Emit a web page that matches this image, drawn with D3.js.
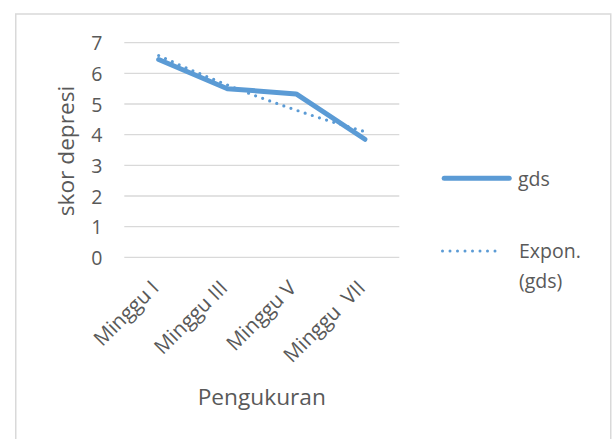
<!DOCTYPE html>
<html>
<head>
<meta charset="utf-8">
<script src="https://cdn.jsdelivr.net/npm/d3@7"></script>
<style>
  html, body { margin: 0; padding: 0; background: #ffffff; }
  svg { display: block; }
  text { font-family: "Open Sans", sans-serif; fill: #595959; }
</style>
</head>
<body>
<svg id="chart" width="616" height="439"></svg>
<script>
// Weekly depression scores (GDS) per measurement
const categories = ["Minggu I", "Minggu III", "Minggu V", "Minggu  VII"];
const gdsValues = [6.45, 5.5, 5.33, 3.85];
const yTicks = [0, 1, 2, 3, 4, 5, 6, 7];
const seriesName = "gds";
const trendName = ["Expon.", "(gds)"];
const xTitle = "Pengukuran";
const yTitle = "skor depresi";

const blue = "#5b9bd5";
const grid = "#d9d9d9";

const svg = d3.select("#chart");

// outer chart frame
svg.append("rect")
  .attr("x", 15.75).attr("y", 14)
  .attr("width", 595).attr("height", 520)
  .attr("fill", "#ffffff")
  .attr("stroke", grid).attr("stroke-width", 1.5);

const plot = { left: 124.3, right: 399.3, top: 42.7, bottom: 257.3 };

const x = d3.scalePoint()
  .domain(categories)
  .range([plot.left, plot.right])
  .padding(0.5);

const y = d3.scaleLinear()
  .domain([0, 7])
  .range([plot.bottom, plot.top]);

// horizontal gridlines
svg.append("g")
  .selectAll("line")
  .data(yTicks)
  .join("line")
  .attr("x1", plot.left).attr("x2", plot.right)
  .attr("y1", d => y(d)).attr("y2", d => y(d))
  .attr("stroke", grid).attr("stroke-width", 1.3);

// y axis tick labels
const yAxis = d3.axisLeft(y).tickValues(yTicks).tickFormat(d3.format("d")).tickSize(0).tickPadding(0);
const yg = svg.append("g")
  .attr("transform", `translate(${plot.left - 22},0)`)
  .call(yAxis);
yg.select(".domain").remove();
yg.selectAll("text")
  .attr("font-size", 19.5)
  .attr("font-family", "Open Sans, sans-serif")
  .attr("fill", "#595959")
  .attr("dy", "0.36em");

// x axis category labels, rotated
const xAxis = d3.axisBottom(x).tickSize(0).tickPadding(0);
const xg = svg.append("g")
  .attr("transform", `translate(0,${plot.bottom})`)
  .call(xAxis);
xg.select(".domain").remove();
xg.selectAll(".tick text")
  .attr("font-size", 20.5)
  .attr("font-family", "Open Sans, sans-serif")
  .attr("fill", "#595959")
  .attr("text-anchor", "end")
  .attr("y", 0).attr("dy", 0)
  .attr("transform", "translate(1,32) rotate(-45)")
  .style("white-space", "pre")
  .attr("xml:space", "preserve");

// axis titles
svg.append("text")
  .attr("transform", `translate(74,${(plot.top + plot.bottom) / 2 + 1}) rotate(-90)`)
  .attr("text-anchor", "middle")
  .attr("font-size", 22.7)
  .text(yTitle);

svg.append("text")
  .attr("x", (plot.left + plot.right) / 2)
  .attr("y", 405)
  .attr("text-anchor", "middle")
  .attr("font-size", 22.7)
  .text(xTitle);

// data series
const line = d3.line()
  .x((d, i) => x(categories[i]))
  .y(d => y(d));

svg.append("path")
  .datum(gdsValues)
  .attr("d", line)
  .attr("fill", "none")
  .attr("stroke", blue)
  .attr("stroke-width", 5)
  .attr("stroke-linejoin", "round")
  .attr("stroke-linecap", "round");

// exponential trendline: least squares fit of ln(y) against index 1..n
const n = gdsValues.length;
const xs = d3.range(1, n + 1);
const lys = gdsValues.map(v => Math.log(v));
const mx = d3.mean(xs), my = d3.mean(lys);
const b = d3.sum(xs, (xi, i) => (xi - mx) * (lys[i] - my)) / d3.sum(xs, xi => (xi - mx) ** 2);
const a = Math.exp(my - b * mx);
const xc = d3.scaleLinear().domain([1, n]).range([x(categories[0]), x(categories[n - 1])]);
const trend = d3.range(0, 61).map(k => {
  const t = 1 + (n - 1) * k / 60;
  return [xc(t), y(a * Math.exp(b * t))];
});

svg.append("path")
  .datum(trend)
  .attr("d", d3.line())
  .attr("fill", "none")
  .attr("stroke", blue)
  .attr("stroke-width", 3.2)
  .attr("stroke-linecap", "round")
  .attr("stroke-dasharray", "0 7.5");

// legend
const lg = svg.append("g");
lg.append("line")
  .attr("x1", 444.2).attr("x2", 509.2)
  .attr("y1", 178.3).attr("y2", 178.3)
  .attr("stroke", blue).attr("stroke-width", 5)
  .attr("stroke-linecap", "round");
lg.append("text")
  .attr("x", 518).attr("y", 185.5)
  .attr("font-size", 19.5)
  .text(seriesName);

lg.append("line")
  .attr("x1", 442.5).attr("x2", 502.5)
  .attr("y1", 251).attr("y2", 251)
  .attr("stroke", blue).attr("stroke-width", 3)
  .attr("stroke-linecap", "round")
  .attr("stroke-dasharray", "0 7.5");
const tt = lg.append("text")
  .attr("x", 519).attr("y", 258)
  .attr("font-size", 19.5);
tt.selectAll("tspan")
  .data(trendName)
  .join("tspan")
  .attr("x", 519)
  .attr("dy", (d, i) => i === 0 ? 0 : 30)
  .text(d => d);
</script>
</body>
</html>
